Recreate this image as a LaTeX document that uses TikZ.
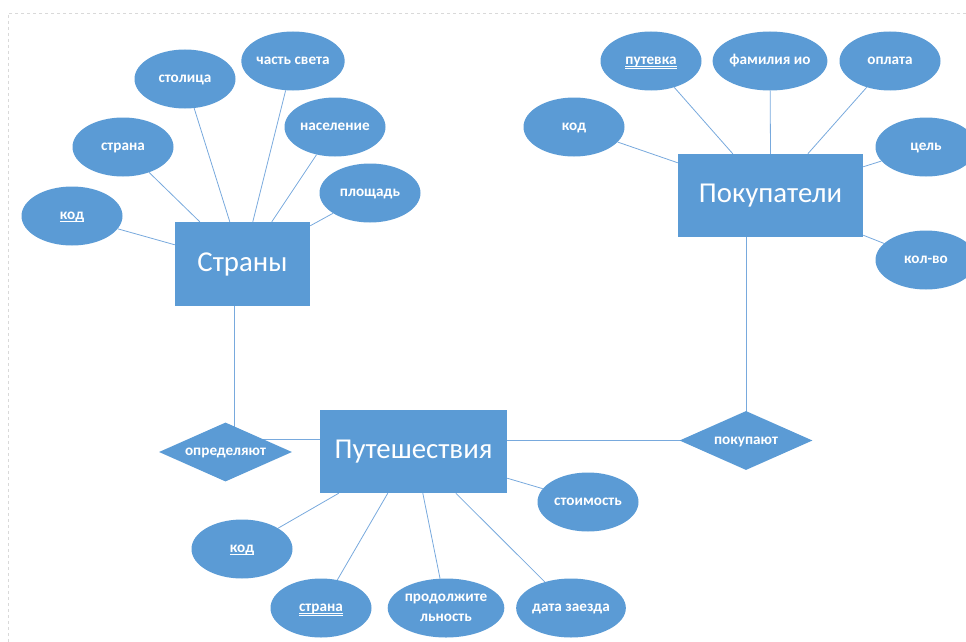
\documentclass[tikz,border=0pt]{standalone}
\usepackage{fontspec}
\setmainfont{Carlito}
\usetikzlibrary{shapes.geometric,backgrounds}

\definecolor{erfill}{HTML}{5B9BD5}
\definecolor{erline}{HTML}{78A9DD}
\definecolor{framegray}{HTML}{D9D9D9}

% single and double underlines for key attributes
\newcommand\keyone[1]{\setbox0\hbox{#1}\rlap{\rule[-2.8pt]{\wd0}{1pt}}\box0}
\newcommand\keytwo[1]{\setbox0\hbox{#1}\rlap{\rule[-2.5pt]{\wd0}{0.9pt}}\rlap{\rule[-4.8pt]{\wd0}{0.9pt}}\box0}

\tikzset{
  entity/.style={rectangle, fill=erfill, text=white, inner sep=0pt,
    font=\fontsize{28.8}{30}\selectfont},
  attrbase/.style={ellipse, fill=erfill, text=white, inner sep=0pt,
    minimum width=101pt, minimum height=59pt,
    font=\fontsize{15.2}{19}\selectfont\bfseries},
  attr/.style={attrbase, text height=7pt, text depth=0pt},
  attrtwo/.style={attrbase, align=center},
  rel/.style={diamond, aspect=2.25, fill=erfill, text=white, inner sep=0pt,
    minimum width=133pt, minimum height=59pt, text height=7pt, text depth=0pt,
    font=\fontsize{15.2}{19}\selectfont\bfseries},
  link/.style={draw=erline, line width=0.8pt},
}

\begin{document}
\begin{tikzpicture}[x=1pt,y=-1pt]
\useasboundingbox (0,0) rectangle (966,642);
\clip (0,0) rectangle (966,642);

% page frame
\draw[framegray, dashed, line width=0.8pt] (966,13) -- (8,13) -- (8,642);

% entities
\node[entity, minimum width=135pt, minimum height=84pt] (countries) at (242.5,264) {Страны};
\node[entity, minimum width=185pt, minimum height=83pt] (buyers) at (770.5,195.5) {Покупатели};
\node[entity, minimum width=187pt, minimum height=83pt] (trips) at (413.5,451.5) {Путешествия};

% relationships
\node[rel] (determ) at (225.5,452) {определяют};
\node[rel] (buysd) at (746,440.5) {покупают};

% attributes of countries
\node[attr] (c1) at (72,216) {\keyone{код}};
\node[attr] (c2) at (123,147) {страна};
\node[attr] (c3) at (185,79) {столица};
\node[attr] (c4) at (293,61) {часть света};
\node[attr] (c5) at (335,127) {население};
\node[attr] (c6) at (370,193) {площадь};

% attributes of buyers
\node[attr] (b1) at (574,127) {код};
\node[attr] (b2) at (651,61) {\keytwo{путевка}};
\node[attr] (b3) at (770,61) {фамилия ио};
\node[attr] (b4) at (890,61) {оплата};
\node[attr] (b5) at (926,147) {цель};
\node[attr] (b6) at (926,260) {кол-во};

% attributes of trips
\node[attr] (t1) at (242,549) {\keyone{код}};
\node[attr] (t2) at (321,608) {\keytwo{страна}};
\node[attrtwo] (t3) at (446,608) {продолжите\\[1pt]льность};
\node[attr] (t4) at (571,608) {дата заезда};
\node[attr] (t5) at (588,502) {стоимость};

\begin{scope}[on background layer]
  % countries
  \draw[link] (c1) -- ([yshift=-23pt]countries.north west);
  \draw[link] (c2) -- ([xshift=25pt]countries.north west);
  \draw[link] (c3) -- ([xshift=55pt]countries.north west);
  \draw[link] (c4) -- ([xshift=78pt]countries.north west);
  \draw[link] (c5) -- ([xshift=97pt]countries.north west);
  \draw[link] (c6) -- ([yshift=-4pt]countries.north east);
  % buyers
  \draw[link] (b1) -- ([yshift=-9pt]buyers.north west);
  \draw[link] (b2) -- ([xshift=55pt]buyers.north west);
  \draw[link] (b3) -- (buyers.north);
  \draw[link] (b4) -- ([xshift=130pt]buyers.north west);
  \draw[link] (b5) -- ([yshift=-13pt]buyers.north east);
  \draw[link] (b6) -- ([yshift=2pt]buyers.south east);
  % trips
  \draw[link] (t1) -- ([xshift=19pt]trips.south west);
  \draw[link] (t2) -- ([xshift=68pt]trips.south west);
  \draw[link] (t3) -- ([xshift=103pt]trips.south west);
  \draw[link] (t4) -- ([xshift=136pt]trips.south west);
  \draw[link] (t5) -- ([yshift=15pt]trips.south east);
  % relationships
  \draw[link] ([xshift=-8.5pt]countries.south) -- ([xshift=-8.5pt]countries.south |- determ.center);
  \draw[link] ([yshift=13pt]determ.center) -- ([yshift=13pt]determ.center -| trips.west);
  \draw[link] (buysd.center) -- (buysd.center -| trips.east);
  \draw[link] (buysd.center) -- (buysd.center |- buyers.south);
\end{scope}
\end{tikzpicture}
\end{document}
